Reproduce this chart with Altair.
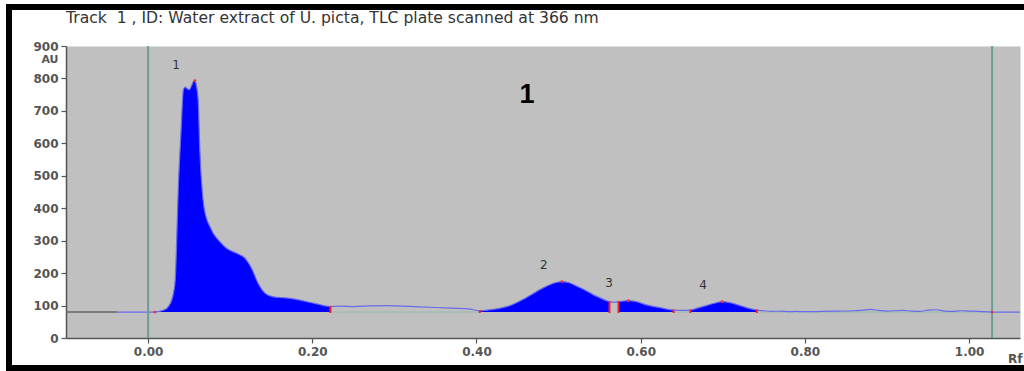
import altair as alt
import pandas as pd

# ---- data ----
rf = [-0.038, 0.0, 0.008, 0.015, 0.020, 0.0227, 0.025, 0.0288, 0.031, 0.033, 0.037, 0.040,
      0.043, 0.045, 0.048, 0.050, 0.053, 0.055, 0.057, 0.059, 0.061, 0.063, 0.067, 0.071,
      0.0755, 0.080, 0.0857, 0.096, 0.108, 0.118, 0.126, 0.134, 0.1425, 0.1526, 0.165,
      0.173, 0.185, 0.195, 0.2055, 0.214, 0.222, 0.235, 0.25, 0.27, 0.29, 0.31, 0.33,
      0.35, 0.37, 0.39, 0.404, 0.42, 0.441, 0.461, 0.4815, 0.49, 0.497, 0.504, 0.512,
      0.522, 0.532, 0.5424, 0.552, 0.562, 0.567, 0.573, 0.579, 0.585, 0.595, 0.607,
      0.62, 0.63, 0.640, 0.65, 0.6605, 0.670, 0.680, 0.690, 0.699, 0.710, 0.721, 0.731,
      0.7414, 0.75, 0.76, 0.77, 0.78, 0.79, 0.80, 0.82, 0.84, 0.86, 0.87, 0.88, 0.89,
      0.90, 0.92, 0.93, 0.94, 0.95, 0.96, 0.97, 0.98, 0.99, 1.00, 1.01, 1.028, 1.062]
au = [80, 80, 80, 83, 87, 91, 98, 117, 140, 178, 478, 632,
      765, 773, 768, 765, 778, 790, 793, 775, 734, 580, 425, 370,
      343, 320, 302, 276, 261, 246, 215, 169, 138, 127, 124,
      122, 117, 111, 105, 100, 97, 98, 97, 99, 100, 98, 96,
      94, 92, 90, 84, 88, 100, 125, 155, 165, 171, 174, 171,
      160, 148, 133, 122, 112, 110, 112, 114, 115, 112, 102,
      95, 90, 86, 85, 86, 93, 100, 107, 112, 108, 100, 92,
      86, 84, 82, 83, 81, 82, 81, 82, 83, 84, 86, 88, 85,
      83, 85, 83, 82, 86, 87, 83, 82, 84, 83, 82, 80, 80]

BASE = 80
peak_start = [0.008, 0.404, 0.573, 0.6605]
peak_end = [0.222, 0.562, 0.640, 0.7414]
peak_max = [0.057, 0.504, 0.585, 0.699]
peak_names = ["1", "2", "3", "4"]
label_rf = [0.034, 0.482, 0.5615, 0.676]
label_au = [842, 225, 170, 163]
boundaries = [0.222, 0.404, 0.562, 0.573, 0.640, 0.6605, 0.7414]
start_marks = [0.008, 1.028]
track_lines = [0.0, 1.028]
x_ticks = [0.0, 0.2, 0.4, 0.6, 0.8, 1.0]
y_ticks = [0, 100, 200, 300, 400, 500, 600, 700, 800, 900]
title_text = "Track\u00a0\u00a01 , ID: Water extract of U. picta, TLC plate scanned at 366 nm"

trace = pd.DataFrame({"rf": rf, "au": au})
look = dict(zip(rf, au))

area_rows = []
for i, (s, e) in enumerate(zip(peak_start, peak_end)):
    for r, a in zip(rf, au):
        if s <= r <= e:
            area_rows.append({"rf": r, "au": a, "base": BASE, "peak": i})
area_df = pd.DataFrame(area_rows)

bound_df = pd.DataFrame({"rf": boundaries,
                         "lo": [BASE - 3] * len(boundaries),
                         "hi": [look[b] + 2 for b in boundaries]})
dots_df = pd.DataFrame({"rf": peak_max + start_marks,
                        "au": [look[p] for p in peak_max] + [BASE, BASE]})
dark_base = pd.DataFrame({"x": [-0.1], "x2": [-0.038], "y": [BASE]})
light_base = pd.DataFrame({"x": [0.222, 0.640, 0.7414], "x2": [0.404, 0.6605, 1.028],
                           "y": [BASE] * 3})
vlines = pd.DataFrame({"rf": track_lines})
labels = pd.DataFrame({"rf": label_rf, "au": label_au, "t": peak_names})
big = pd.DataFrame({"rf": [0.4616], "au": [749], "t": ["1"]})

xs = alt.Scale(domain=[-0.1, 1.062], nice=False, zero=False)
ys = alt.Scale(domain=[0, 900], nice=False)

x_axis = alt.Axis(values=x_ticks, format=".2f", title="Rf", titleAlign="right",
                  titleX=956, titleY=20, titleBaseline="middle", titleAngle=0,
                  grid=False, labelOverlap=False)
y_axis = alt.Axis(values=y_ticks, format="d", title="AU", titleAngle=0, titleAlign="right",
                  titleX=-8, titleY=13, titleBaseline="middle", grid=False,
                  labelOverlap=False, titleFontSize=11)

line = alt.Chart(trace).mark_line(color="#6a6aee", strokeWidth=1.2,
                                   interpolate="monotone").encode(
    x=alt.X("rf:Q", scale=xs, axis=x_axis),
    y=alt.Y("au:Q", scale=ys, axis=y_axis),
)

areas = alt.Chart(area_df).mark_area(color="#0000ff", interpolate="monotone").encode(
    x=alt.X("rf:Q", scale=xs, axis=x_axis),
    y=alt.Y("au:Q", scale=ys, axis=y_axis),
    y2="base:Q",
    detail="peak:N",
)

dark_rule = alt.Chart(dark_base).mark_rule(color="#666666", strokeWidth=1.5).encode(
    x=alt.X("x:Q", scale=xs, axis=x_axis), x2="x2:Q",
    y=alt.Y("y:Q", scale=ys, axis=y_axis))
light_rule = alt.Chart(light_base).mark_rule(color="#a4bcb2", strokeWidth=1.5).encode(
    x=alt.X("x:Q", scale=xs, axis=x_axis), x2="x2:Q",
    y=alt.Y("y:Q", scale=ys, axis=y_axis))

tracks = alt.Chart(vlines).mark_rule(color="#6f9c95", strokeWidth=2).encode(
    x=alt.X("rf:Q", scale=xs, axis=x_axis))

red_rules = alt.Chart(bound_df).mark_rule(color="#ee2222", strokeWidth=2).encode(
    x=alt.X("rf:Q", scale=xs, axis=x_axis), y=alt.Y("lo:Q", scale=ys, axis=y_axis),
    y2="hi:Q")
red_dots = alt.Chart(dots_df).mark_point(color="#ee3333", filled=True, size=8,
                                         opacity=1).encode(
    x=alt.X("rf:Q", scale=xs, axis=x_axis), y=alt.Y("au:Q", scale=ys, axis=y_axis))

peak_text = alt.Chart(labels).mark_text(font="DejaVu Sans", fontSize=12, color="#333333",
                                         baseline="middle").encode(
    x=alt.X("rf:Q", scale=xs, axis=x_axis), y=alt.Y("au:Q", scale=ys, axis=y_axis),
    text="t:N")
big_text = alt.Chart(big).mark_text(font="Liberation Sans", fontSize=27, fontWeight="bold",
                                     color="#000000", baseline="middle").encode(
    x=alt.X("rf:Q", scale=xs, axis=x_axis), y=alt.Y("au:Q", scale=ys, axis=y_axis),
    text="t:N")

title_mark = alt.Chart(pd.DataFrame({"t": [title_text]})).mark_text(
    font="DejaVu Sans", fontSize=15.6, color="#333333", align="left",
    baseline="middle").encode(x=alt.value(0), y=alt.value(-28), text="t:N")

# black frame bands of the figure (top, left, bottom), as filled rectangles
one = pd.DataFrame({"a": [0]})
frame_top = alt.Chart(one).mark_rect(color="#000000").encode(
    x=alt.value(-60), x2=alt.value(958), y=alt.value(-42), y2=alt.value(-36))
frame_left = alt.Chart(one).mark_rect(color="#000000").encode(
    x=alt.value(-60), x2=alt.value(-54), y=alt.value(-42), y2=alt.value(325))
frame_bottom = alt.Chart(one).mark_rect(color="#000000").encode(
    x=alt.value(-60), x2=alt.value(958), y=alt.value(319), y2=alt.value(325))

chart = alt.layer(
    light_rule, dark_rule, areas, line, tracks, red_rules, red_dots,
    peak_text, big_text, title_mark, frame_top, frame_left, frame_bottom
).properties(
    width=954, height=292,
    background="white",
    padding={"left": 66, "top": 46, "right": 4, "bottom": 33},
    autosize=alt.AutoSizeParams(type="none"),
).configure_view(
    fill="#c0c0c0", stroke="transparent"
).configure_axis(
    grid=False, domainColor="#555555", domainWidth=1.5, tickColor="#555555",
    tickSize=5, tickWidth=1.2, labelFont="DejaVu Sans", labelFontWeight="bold",
    labelFontSize=12, labelColor="#555555", titleFont="DejaVu Sans",
    titleFontWeight="bold", titleFontSize=12, titleColor="#555555", labelPadding=3,
)

chart.save("out.html", embed_options={"renderer": "svg", "actions": False})
